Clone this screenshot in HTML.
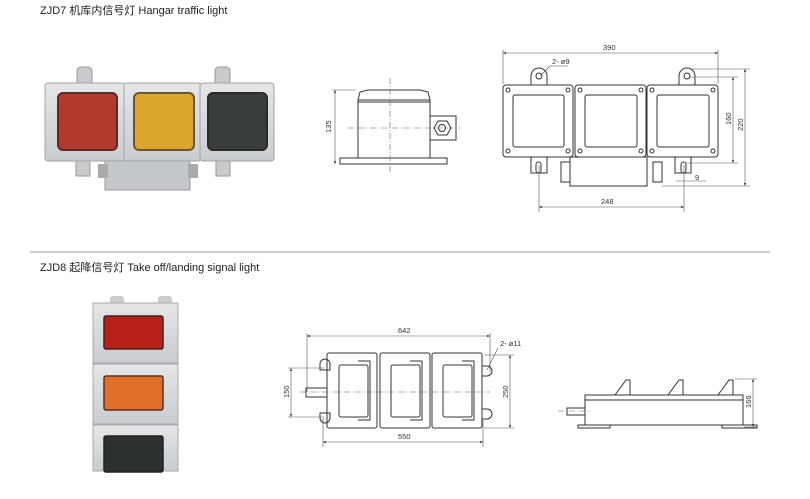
<!DOCTYPE html>
<html><head><meta charset="utf-8"><style>
html,body{margin:0;padding:0;background:#fff;}
svg{display:block}
text{font-family:"Liberation Sans","Noto Sans CJK SC",sans-serif;fill:#222}
.l{stroke:#333;fill:none;stroke-width:1}
.t{stroke:#555;fill:none;stroke-width:.6}
.c{stroke:#666;fill:none;stroke-width:.6;stroke-dasharray:6,2,1,2}
.d{font-size:7.5px;fill:#333}
</style></head><body>
<svg width="810" height="499" viewBox="0 0 810 499" xmlns="http://www.w3.org/2000/svg">
<defs>
<marker id="a" markerWidth="6" markerHeight="6" refX="5" refY="3" orient="auto-start-reverse"><path d="M0,1 L5,3 L0,5" fill="#444"/></marker>
<linearGradient id="g" x1="0" y1="0" x2="0" y2="1"><stop offset="0" stop-color="#e4e6e8"/><stop offset="1" stop-color="#c9ccd0"/></linearGradient>
</defs>
<text x="40" y="14" font-size="11">ZJD7 机库内信号灯 Hangar traffic light</text>
<text x="40" y="271" font-size="11">ZJD8 起降信号灯 Take off/landing signal light</text>
<line x1="30" y1="252" x2="770" y2="252" stroke="#999" stroke-width="1"/>

<!-- Photo 1 -->
<g>
<rect x="77" y="67" width="15" height="20" rx="4" fill="#c8cacd" stroke="#999"/>
<rect x="215" y="67" width="15" height="20" rx="4" fill="#c8cacd" stroke="#999"/>
<rect x="76" y="158" width="14" height="18" fill="#c8cacd" stroke="#999"/>
<rect x="216" y="158" width="14" height="18" fill="#c8cacd" stroke="#999"/>
<rect x="105" y="158" width="85" height="32" fill="#c4c7cb" stroke="#999"/>
<rect x="98" y="164" width="10" height="14" fill="#aaa"/>
<rect x="188" y="164" width="10" height="14" fill="#aaa"/>
<rect x="45" y="83" width="80" height="78" rx="3" fill="url(#g)" stroke="#a0a3a6"/>
<rect x="124" y="83" width="77" height="78" rx="3" fill="url(#g)" stroke="#a0a3a6"/>
<rect x="200" y="83" width="74" height="78" rx="3" fill="url(#g)" stroke="#a0a3a6"/>
<rect x="58" y="93" width="59" height="57" rx="5" fill="#b23a2c" stroke="#5a2a25" stroke-width="2"/>
<rect x="134" y="93" width="60" height="57" rx="5" fill="#dca62e" stroke="#6a5530" stroke-width="2"/>
<rect x="208" y="93" width="59" height="57" rx="5" fill="#3a3d3e" stroke="#2a2a2a" stroke-width="2"/>
</g>

<!-- Side view 1 -->
<g>
<path class="l" d="M358,100 L360,92 L368,90 L420,90 L428,92 L430,100 Z"/>
<rect class="l" x="358" y="100" width="72" height="58"/>
<line class="l" x1="358" y1="102" x2="430" y2="102"/>
<rect class="l" x="340" y="158" width="107" height="6"/>
<rect class="l" x="430" y="116" width="26" height="24"/>
<polygon class="l" points="438,121 447,121 451,128 447,135 438,135 434,128"/>
<circle class="l" cx="442" cy="128" r="3.5"/>
<line class="c" x1="390" y1="78" x2="390" y2="172"/>
<line class="c" x1="348" y1="128" x2="460" y2="128"/>
<line class="t" x1="335" y1="90" x2="335" y2="164" marker-start="url(#a)" marker-end="url(#a)"/>
<line class="t" x1="332" y1="90" x2="356" y2="90"/>
<text class="d" transform="translate(331,133) rotate(-90)">135</text>
</g>

<!-- Front view 1 -->
<g>
<path class="l" d="M531,85 L531,76 A8,8 0 0 1 547,76 L547,85"/><circle class="l" cx="539" cy="76" r="3"/>
<path class="l" d="M679,85 L679,76 A8,8 0 0 1 695,76 L695,85"/><circle class="l" cx="687" cy="76" r="3"/>
<rect class="l" x="531" y="157" width="16" height="16"/><rect class="l" x="536" y="162" width="5" height="11" rx="2.5"/>
<rect class="l" x="675" y="157" width="16" height="16"/><rect class="l" x="681" y="162" width="5" height="11" rx="2.5"/>
<rect class="l" x="570" y="157" width="77" height="29"/>
<rect class="l" x="561" y="162" width="9" height="20"/><rect class="l" x="653" y="162" width="9" height="20"/>
<rect class="l" x="503" y="85" width="70" height="72" rx="3"/>
<rect class="l" x="575" y="85" width="71" height="72" rx="3"/>
<rect class="l" x="647" y="85" width="71" height="72" rx="3"/>
<rect class="l" x="513" y="95" width="51" height="52" rx="2"/>
<rect class="l" x="585" y="95" width="52" height="52" rx="2"/>
<rect class="l" x="657" y="95" width="52" height="52" rx="2"/>
<g class="l">
<circle cx="508" cy="90" r="2"/><circle cx="568" cy="90" r="2"/><circle cx="508" cy="151" r="2"/><circle cx="568" cy="151" r="2"/>
<circle cx="580" cy="90" r="2"/><circle cx="641" cy="90" r="2"/><circle cx="580" cy="151" r="2"/><circle cx="641" cy="151" r="2"/>
<circle cx="652" cy="90" r="2"/><circle cx="713" cy="90" r="2"/><circle cx="652" cy="151" r="2"/><circle cx="713" cy="151" r="2"/>
</g>
<line class="t" x1="503" y1="53" x2="718" y2="53" marker-start="url(#a)" marker-end="url(#a)"/>
<line class="t" x1="503" y1="50" x2="503" y2="84"/><line class="t" x1="718" y1="50" x2="718" y2="84"/>
<text class="d" x="603" y="50">390</text>
<text class="d" x="552" y="64">2- ø9</text>
<line class="t" x1="550" y1="66" x2="568" y2="66"/><line class="t" x1="550" y1="66" x2="540" y2="76"/>
<line class="t" x1="690" y1="69" x2="750" y2="69"/><line class="t" x1="690" y1="77" x2="738" y2="77"/>
<line class="t" x1="686" y1="163" x2="738" y2="163"/><line class="t" x1="662" y1="186" x2="750" y2="186"/>
<line class="t" x1="733" y1="77" x2="733" y2="163" marker-start="url(#a)" marker-end="url(#a)"/>
<line class="t" x1="745" y1="69" x2="745" y2="186" marker-start="url(#a)" marker-end="url(#a)"/>
<text class="d" transform="translate(731,125) rotate(-90)">160</text>
<text class="d" transform="translate(743,131) rotate(-90)">220</text>
<line class="t" x1="676" y1="181" x2="706" y2="181"/><text class="d" x="695" y="180">9</text>
<line class="t" x1="539" y1="165" x2="539" y2="212"/><line class="t" x1="684" y1="165" x2="684" y2="212"/>
<line class="t" x1="539" y1="207" x2="684" y2="207" marker-start="url(#a)" marker-end="url(#a)"/>
<text class="d" x="601" y="204">248</text>
</g>

<!-- Photo 2 -->
<g>
<rect x="110" y="296" width="14" height="10" rx="3" fill="#ccc"/>
<rect x="158" y="296" width="14" height="10" rx="3" fill="#ccc"/>
<rect x="93" y="303" width="85" height="167" fill="#d4d7da" stroke="#a8abae"/>
<rect x="93" y="303" width="85" height="60" fill="url(#g)" stroke="#a8abae"/>
<rect x="93" y="364" width="85" height="60" fill="url(#g)" stroke="#a8abae"/>
<rect x="93" y="425" width="85" height="46" fill="url(#g)" stroke="#a8abae"/>
<rect x="104" y="316" width="59" height="33" rx="2" fill="#b8201a" stroke="#4a1e1a" stroke-width="1.5"/>
<rect x="104" y="376" width="59" height="34" rx="2" fill="#e07028" stroke="#5a3020" stroke-width="1.5"/>
<rect x="104" y="436" width="59" height="36" rx="2" fill="#2c302f" stroke="#222" stroke-width="1.5"/>
</g>

<!-- Front view 2 -->
<g>
<line class="c" x1="300" y1="392" x2="490" y2="392"/>
<path class="l" d="M320,370 L320,364 A5,5 0 0 1 330,364 L330,370 Z"/><path class="l" d="M320,413 L320,418 A5,5 0 0 0 330,418 L330,413 Z"/>
<path class="l" d="M482,366 L487,366 A5,5 0 0 1 487,376 L482,376 Z"/><path class="l" d="M482,409 L487,409 A5,5 0 0 1 487,419 L482,419 Z"/>
<rect class="l" x="327" y="353" width="50" height="75" rx="2"/>
<rect class="l" x="380" y="353" width="50" height="75" rx="2"/>
<rect class="l" x="432" y="353" width="50" height="75" rx="2"/>
<rect class="l" x="339" y="365" width="29" height="52" rx="2"/>
<rect class="l" x="391" y="365" width="29" height="52" rx="2"/>
<rect class="l" x="443" y="365" width="29" height="52" rx="2"/>
<path class="l" d="M358,361 L370,361 L370,420 L358,420"/><path class="l" d="M410,361 L422,361 L422,420 L410,420"/><path class="l" d="M462,361 L474,361 L474,420 L462,420"/>
<rect class="l" x="306" y="388" width="21" height="9"/>
<line class="t" x1="307" y1="336" x2="490" y2="336" marker-start="url(#a)" marker-end="url(#a)"/>
<line class="t" x1="307" y1="333" x2="307" y2="392"/><line class="t" x1="490" y1="333" x2="490" y2="372"/>
<text class="d" x="398" y="333">642</text>
<text class="d" x="500" y="346">2- ø11</text><line class="t" x1="498" y1="348" x2="487" y2="370"/>
<line class="t" x1="323" y1="418" x2="323" y2="447"/><line class="t" x1="483" y1="420" x2="483" y2="447"/>
<line class="t" x1="323" y1="442" x2="483" y2="442" marker-start="url(#a)" marker-end="url(#a)"/>
<text class="d" x="398" y="439">550</text>
<line class="t" x1="288" y1="368" x2="324" y2="368"/><line class="t" x1="288" y1="417" x2="324" y2="417"/>
<line class="t" x1="291" y1="368" x2="291" y2="417" marker-start="url(#a)" marker-end="url(#a)"/>
<text class="d" transform="translate(289,398) rotate(-90)">150</text>
<line class="t" x1="484" y1="355" x2="514" y2="355"/><line class="t" x1="484" y1="428" x2="514" y2="428"/>
<line class="t" x1="510" y1="355" x2="510" y2="428" marker-start="url(#a)" marker-end="url(#a)"/>
<text class="d" transform="translate(508,398) rotate(-90)">250</text>
</g>

<!-- Side view 2 -->
<g>
<rect class="l" x="585" y="395" width="158" height="30"/>
<line class="l" x1="585" y1="400" x2="743" y2="400"/>
<rect class="l" x="578" y="425" width="32" height="3"/><rect class="l" x="722" y="425" width="35" height="3"/>
<path class="l" d="M600,395 L630,395 L630,380 L626,380 L615,395"/>
<path class="l" d="M650,395 L683,395 L683,380 L679,380 L668,395"/>
<path class="l" d="M700,395 L733,395 L733,380 L729,380 L718,395"/>
<rect class="l" x="567" y="408" width="18" height="7"/>
<line class="c" x1="558" y1="411" x2="590" y2="411"/>
<line class="t" x1="735" y1="379" x2="757" y2="379"/><line class="t" x1="744" y1="427" x2="757" y2="427"/>
<line class="t" x1="753" y1="379" x2="753" y2="427" marker-start="url(#a)" marker-end="url(#a)"/>
<text class="d" transform="translate(751,408) rotate(-90)">166</text>
</g>
</svg>
</body></html>
